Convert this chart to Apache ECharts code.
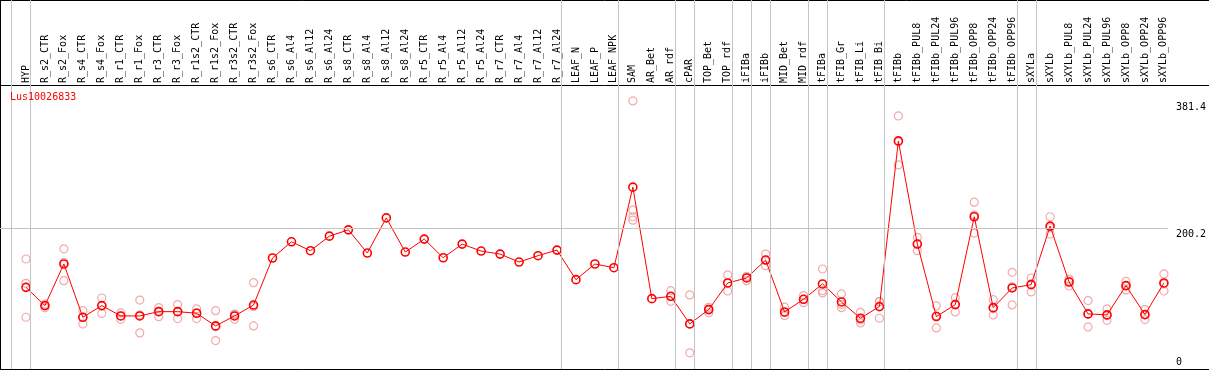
<!DOCTYPE html>
<html>
<head>
<meta charset="utf-8">
<script src="https://cdn.jsdelivr.net/npm/echarts@6/dist/echarts.min.js"></script>
<style>
html,body{margin:0;padding:0;background:#fff;}
#chart{width:1209px;height:370px;}
</style>
</head>
<body>
<div id="chart"></div>
<script>
const chartTitle = 'Lus10026833';
const categories = ['HYP','R_s2_CTR','R_s2_Fox','R_s4_CTR','R_s4_Fox','R_r1_CTR','R_r1_Fox','R_r3_CTR','R_r3_Fox','R_r1s2_CTR','R_r1s2_Fox','R_r3s2_CTR','R_r3s2_Fox','R_s6_CTR','R_s6_Al4','R_s6_Al12','R_s6_Al24','R_s8_CTR','R_s8_Al4','R_s8_Al12','R_s8_Al24','R_r5_CTR','R_r5_Al4','R_r5_Al12','R_r5_Al24','R_r7_CTR','R_r7_Al4','R_r7_Al12','R_r7_Al24','LEAF_N','LEAF_P','LEAF_NPK','SAM','AR_Bet','AR_rdf','cPAR','TOP_Bet','TOP_rdf','iFIBa','iFIBb','MID_Bet','MID_rdf','tFIBa','tFIB_Gr','tFIB_Li','tFIB_Bi','tFIBb','tFIBb_PUL8','tFIBb_PUL24','tFIBb_PUL96','tFIBb_OPP8','tFIBb_OPP24','tFIBb_OPP96','sXYLa','sXYLb','sXYLb_PUL8','sXYLb_PUL24','sXYLb_PUL96','sXYLb_OPP8','sXYLb_OPP24','sXYLb_OPP96'];

// mean expression per sample
const meanValues = [116.2,90.2,149.4,73.6,90.2,75.5,75.5,81.6,81.6,79.3,61.3,75.5,91,157.9,181,168.3,189,198,165,215,166.4,184.8,158.3,177.7,167.8,163.5,152.2,161.2,169.2,127.1,149.4,144.1,258.7,100.1,103.4,64.2,84.5,122.4,129.5,155,81.2,99.2,121,95.4,72.2,88.8,324.5,177.8,74.6,91.6,216.6,87.3,115.3,120,203.3,123.8,78.4,77,118.6,77.4,122.4];

// replicate values (null = no replicate shown)
const rep1 = [156.5,92.5,171,83,101,79.8,98,87.3,91.6,85.5,83,77.4,122.8,null,null,null,null,null,null,null,null,null,null,null,null,null,null,null,null,null,null,null,381.4,null,111.5,105.4,87.7,133.8,131.8,163.5,88,104.4,142.3,106.8,80.7,95.9,360,187.2,89.7,101.5,237.4,98.7,137.5,129.5,216.6,128,97.3,85.5,124.7,84.5,135.2];
const rep2 = [73.6,87,125.7,64,79,70.7,51.4,74.5,71.7,71.7,40.5,70.7,61.3,null,null,null,null,null,null,null,null,null,null,null,null,null,null,null,null,null,null,null,211.8,null,96.3,23,80,111,125.7,147,76,94.4,111.5,87.3,65.6,72.2,290.4,168.3,58.5,81.2,193.4,77,91.1,109.6,192,118.1,59.9,69.3,112.5,70.3,111];
const rep3 = [121.9,90,151.5,73.6,90,75.5,77,82,81.6,80,60,78,89,null,null,null,null,null,null,null,null,null,null,null,null,null,null,null,null,null,null,null,216.6,null,103,64,85,122,130,155,80,99,108.2,92,70,96,323,178,75.5,92,219,86,117,121,201,125,78,76,118.6,77.4,121];
const rep4 = [null,null,null,null,null,null,null,null,null,null,null,null,null,null,null,null,null,null,null,null,null,null,null,null,null,null,null,null,null,null,null,null,226,null,null,null,null,null,null,null,null,null,null,null,null,null,null,null,null,null,null,null,null,null,null,null,null,null,null,null,null];

// group separators: index of first sample of each group (and the end)
const groupBreaks = [0,1,29,32,35,36,38,39,40,42,43,46,53,54,61];
const yTickValues = [0,200.2,381.4];
const refLineValue = 200.2;

const FONT = 'DejaVu Sans Mono';
const toPairs = arr => arr.map((v,i)=> v==null ? null : [i,v]).filter(p=>p);

const repStyle = {
  type:'scatter', symbol:'circle', symbolSize:8,
  color:'#ee9696',
  itemStyle:{color:'rgba(255,255,255,0)', borderColor:'#ee9696', borderWidth:1.2},
  silent:true, z:2
};

const chart = echarts.init(document.getElementById('chart'), null, {renderer:'canvas'});
chart.setOption({
  animation:false,
  backgroundColor:'#fff',
  title:{
    text:chartTitle, left:10, top:92, padding:0,
    textStyle:{color:'#ff0000', fontFamily:FONT, fontSize:10, fontWeight:'normal'}
  },
  grid:{left:0, right:39, top:0, bottom:1, containLabel:false},
  xAxis:{
    type:'value', position:'top', offset:-85,
    min:-26/19, max:(1170-26)/19,
    axisLine:{show:false}, axisTick:{show:false}, splitLine:{show:false},
    axisLabel:{
      customValues:categories.map((c,i)=>i),
      formatter:v=>categories[Math.round(v)],
      rotate:90, margin:2,
      fontFamily:FONT, fontSize:10, color:'#000'
    }
  },
  yAxis:{
    type:'value', position:'right', min:0, max:525,
    axisLine:{show:false}, axisTick:{show:false}, splitLine:{show:false},
    axisLabel:{
      customValues:yTickValues, margin:8,
      fontFamily:FONT, fontSize:10, color:'#000', verticalAlign:'middle',
      formatter:v=> v===0 ? '{z|0}' : '{t|'+v+'}',
      rich:{
        t:{fontFamily:FONT, fontSize:10, color:'#000', padding:[12,0,0,0]},
        z:{fontFamily:FONT, fontSize:10, color:'#000', padding:[0,0,14,0]}
      }
    }
  },
  graphic:[
    {type:'line', shape:{x1:0,y1:0.5,x2:1209,y2:0.5}, style:{stroke:'#000',lineWidth:1}, silent:true},
    {type:'line', shape:{x1:0,y1:85.5,x2:1209,y2:85.5}, style:{stroke:'#000',lineWidth:1}, silent:true},
    {type:'line', shape:{x1:0,y1:369.5,x2:1209,y2:369.5}, style:{stroke:'#000',lineWidth:1}, silent:true},
    {type:'line', shape:{x1:0.5,y1:0,x2:0.5,y2:370}, style:{stroke:'#000',lineWidth:1}, silent:true}
  ],
  series:[
    Object.assign({data:toPairs(rep1)}, repStyle),
    Object.assign({data:toPairs(rep2)}, repStyle),
    Object.assign({data:toPairs(rep3)}, repStyle),
    Object.assign({data:toPairs(rep4)}, repStyle),
    {
      type:'line', data:toPairs(meanValues),
      symbol:'circle', symbolSize:8,
      lineStyle:{color:'#ff0000', width:1},
      itemStyle:{color:'rgba(255,255,255,0)', borderColor:'#ff0000', borderWidth:1.6},
      z:3
    },
    {
      type:'scatter', data:[],
      markLine:{
        silent:true, symbol:['none','none'], label:{show:false},
        lineStyle:{color:'#c4c4c4', type:'solid', width:1},
        data: groupBreaks.map(k=>({xAxis:k-0.75})).concat([{yAxis:refLineValue}])
      },
      z:1
    }
  ]
});
</script>
</body>
</html>
